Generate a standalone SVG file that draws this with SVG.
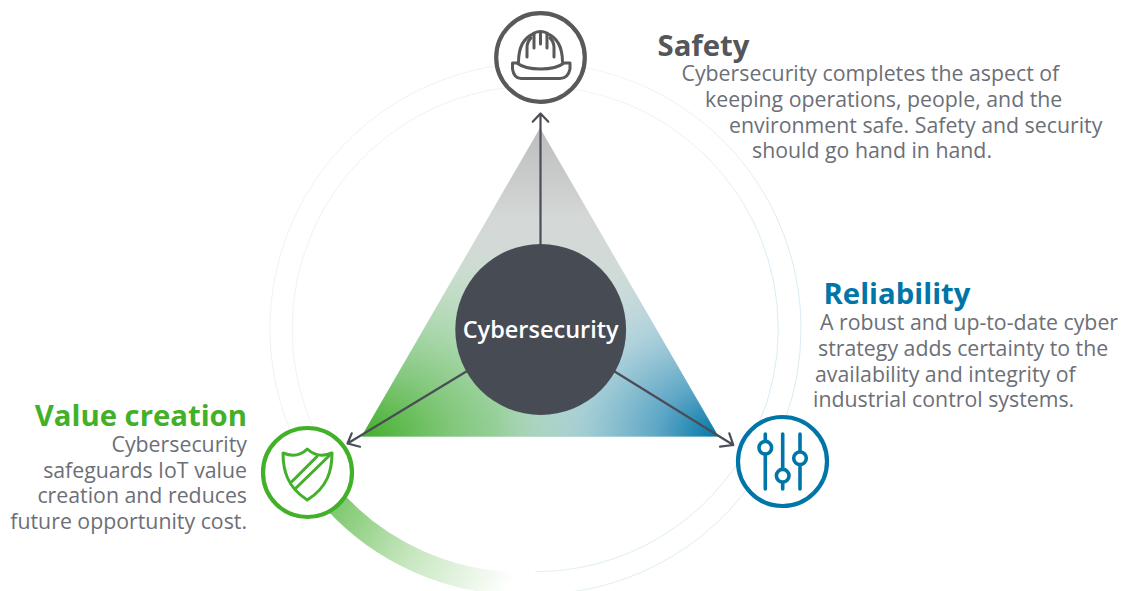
<svg xmlns="http://www.w3.org/2000/svg" width="1124" height="591" viewBox="0 0 1124 591">
<style>
text{font-family:"Open Sans","Noto Sans","Liberation Sans",sans-serif}
.b{font-size:21.3px;fill:#6c6f77}
.t{font-size:29.3px;font-weight:700}
.ring{fill:none;stroke-width:.7}
.conn{fill:none;stroke:#4a4d57;stroke-width:2.2;stroke-linecap:round;stroke-linejoin:round}
</style>
<defs>
<linearGradient id="gTop" gradientUnits="userSpaceOnUse" x1="540" y1="128" x2="540" y2="436"><stop offset="0" stop-color="#bdbdbd"/><stop offset=".3" stop-color="#d4d8d6"/><stop offset=".72" stop-color="#c9dfd8"/><stop offset="1" stop-color="#92c9b8"/></linearGradient>
<radialGradient id="gGreen" gradientUnits="userSpaceOnUse" cx="0" cy="0" r="1" gradientTransform="translate(362 436) scale(300 215)"><stop offset="0" stop-color="#43b02a"/><stop offset=".3" stop-color="#80c777" stop-opacity=".95"/><stop offset=".6" stop-color="#a8d8a8" stop-opacity=".72"/><stop offset="1" stop-color="#cfe3cb" stop-opacity="0"/></radialGradient>
<radialGradient id="gBlue" gradientUnits="userSpaceOnUse" cx="0" cy="0" r="1" gradientTransform="translate(719 436) scale(225 190)"><stop offset="0" stop-color="#0076a8"/><stop offset=".28" stop-color="#5ba5c6" stop-opacity=".95"/><stop offset=".62" stop-color="#a6cddd" stop-opacity=".75"/><stop offset="1" stop-color="#c8dbe3" stop-opacity="0"/></radialGradient>
<linearGradient id="gArc" gradientUnits="userSpaceOnUse" x1="335" y1="490" x2="510" y2="585"><stop offset="0" stop-color="#78c668"/><stop offset=".5" stop-color="#c8e7c1"/><stop offset="1" stop-color="#ffffff"/></linearGradient>
<linearGradient id="gR1" gradientUnits="userSpaceOnUse" x1="600" y1="70" x2="790" y2="260"><stop offset="0" stop-color="#efefef"/><stop offset="1" stop-color="#c8e2ee"/></linearGradient>
<linearGradient id="gR2" gradientUnits="userSpaceOnUse" x1="790" y1="440" x2="560" y2="590"><stop offset="0" stop-color="#c8e2ee"/><stop offset="1" stop-color="#d0ecE2"/></linearGradient>
</defs>
<g id="rings">
<path class="ring" stroke="#ebebeb" d="M535.3 63A265.7 265.700 0 0 0 290 430"/>
<path class="ring" stroke="#ebebeb" d="M535.3 86A243 243 0 0 0 312 425"/>
<path class="ring" stroke="url(#gR1)" d="M535.3 63A265.7 265.700 0 0 1 801 328.700"/>
<path class="ring" stroke="url(#gR1)" d="M535.3 86A243 243 0 0 1 778.3 328.700"/>
<path class="ring" stroke="#c8e2ee" d="M801 328.700A265.7 265.700 0 0 1 784.900 420"/>
<path class="ring" stroke="#c8e2ee" d="M778.300 328.700A243 243 0 0 1 758.400 425"/>
<path class="ring" stroke="url(#gR2)" d="M770.300 452.700A265.7 265.700 0 0 1 535.300 594.400"/>
<path class="ring" stroke="url(#gR2)" d="M750 442.500A243 243 0 0 1 535.300 571.700"/>
<path d="M324 489A254.400 254.400 0 0 0 535.300 583.100" fill="none" stroke="url(#gArc)" stroke-width="23"/>
</g>
<g id="triangle">
<path d="M540 128L718.500 436.500H361.500Z" fill="url(#gTop)"/>
<path d="M540 128L718.500 436.500H361.500Z" fill="url(#gGreen)"/>
<path d="M540 128L718.500 436.500H361.500Z" fill="url(#gBlue)"/>
</g>
<g id="connectors" class="conn">
<path d="M540.500 246V113.500M532.700 121.700L540.500 113.500L548.300 121.700"/>
<path d="M468 370.500L347.500 443.500M351.700 433.300L347.500 443.500L360 446.700"/>
<path d="M613 370.500L733.300 445M729.300 433.300L733.300 445L720 446.700"/>
</g>
<g id="node-center">
<circle cx="540.700" cy="329.500" r="85.400" fill="#474b54"/>
<text x="540.700" y="337.500" text-anchor="middle" font-size="23.500" font-weight="600" fill="#fff">Cybersecurity</text>
</g>
<g id="node-safety">
<circle cx="540.500" cy="57.500" r="44.300" fill="#fff" stroke="#58595b" stroke-width="4.200"/>
<g fill="none" stroke="#58595b" stroke-width="3" stroke-linecap="round" stroke-linejoin="round">
<path d="M518.500 62C518.500 47 523 38 534 33.500M562.500 62C562.500 47 558 38 547 33.500"/>
<path d="M534 48V33Q540.500 30 547 33V48M540.500 32V44"/>
<path d="M527 57V47Q527.500 41 531 38M554 57V47Q553.500 41 550 38"/>
<path d="M512.500 63H517C522 67 530 69 540.500 69S559 67 564 63H570V69Q568 78.500 560 78.500H521Q514 78.500 512.500 69Z"/>
</g>
</g>
<g id="node-value">
<circle cx="307.500" cy="472.500" r="44.500" fill="#fff" stroke="#43b02a" stroke-width="4.200"/>
<g fill="none" stroke="#43b02a" stroke-width="3" stroke-linecap="round" stroke-linejoin="round">
<path d="M283 453Q297 459 307.300 449Q318 459 332 453C332 470 328 487 307.300 500C287 487 283 470 283 453Z"/>
<path d="M292 481.500L317 456.500M296 488L331.500 453.500"/>
</g>
</g>
<g id="node-reliability">
<circle cx="782.500" cy="461.500" r="44.500" fill="#fff" stroke="#0076a8" stroke-width="4.200"/>
<g fill="#fff" stroke="#0076a8" stroke-width="3.600" stroke-linecap="round">
<path d="M765.300 434V489M782.700 434V489M800 434V489"/>
<circle cx="765.300" cy="447.700" r="6.300"/>
<circle cx="782.700" cy="475.700" r="6.300"/>
<circle cx="800" cy="458.300" r="6.300"/>
</g>
</g>
<g id="label-safety">
<text class="t" x="657.500" y="56" fill="#53565a">Safety</text>
<text class="b" x="681.500" y="81">Cybersecurity completes the aspect of</text>
<text class="b" x="705" y="107">keeping operations, people, and the</text>
<text class="b" x="729" y="132.500">environment safe. Safety and security</text>
<text class="b" x="752" y="158">should go hand in hand.</text>
</g>
<g id="label-reliability">
<text class="t" x="823.500" y="304" fill="#0076a8">Reliability</text>
<text class="b" x="820" y="330">A robust and up-to-date cyber</text>
<text class="b" x="818" y="356">strategy adds certainty to the</text>
<text class="b" x="815" y="381.500">availability and integrity of</text>
<text class="b" x="813" y="407">industrial control systems.</text>
</g>
<g id="label-value" text-anchor="end">
<text class="t" x="247" y="426" fill="#43b02a">Value creation</text>
<text class="b" x="247" y="452">Cybersecurity</text>
<text class="b" x="247" y="477.500">safeguards IoT value</text>
<text class="b" x="247" y="503">creation and reduces</text>
<text class="b" x="247" y="528.500">future opportunity cost.</text>
</g>
</svg>
